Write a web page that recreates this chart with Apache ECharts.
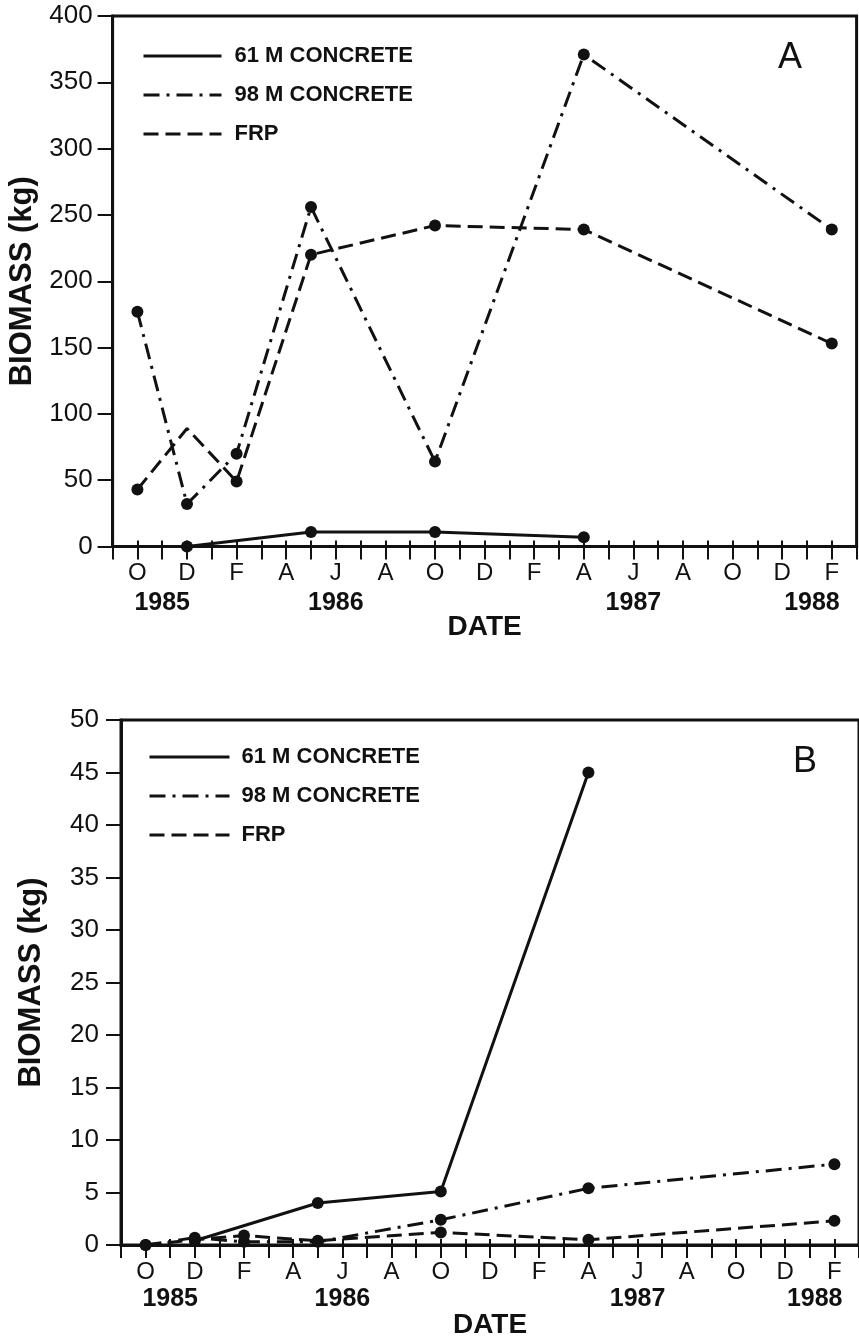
<!DOCTYPE html>
<html>
<head>
<meta charset="utf-8">
<title>Biomass</title>
<script src="https://cdn.jsdelivr.net/npm/echarts@6/dist/echarts.min.js"></script>
<style>
html, body { margin: 0; padding: 0; background: #fff; }
#chart { width: 859px; height: 1343px; }
</style>
</head>
<body>
<div id="chart"></div>
<script>
// months are counted from October 1985 (0) up to February 1988 (28)
var monthLabels = ['O', 'D', 'F', 'A', 'J', 'A', 'O', 'D', 'F', 'A', 'J', 'A', 'O', 'D', 'F'];
var yearLabels = ['1985', '1986', '1987', '1988'];
var yearPos = [1, 8, 20, 27.2];
var seriesNames = ['61 M CONCRETE', '98 M CONCRETE', 'FRP'];

// panel A, biomass in kg
var aMonths61 = [2, 7, 12, 18];
var a61 = [0, 11, 11, 7];
var aMonths98 = [0, 2, 4, 7, 12, 18, 28];
var a98 = [177, 32, 70, 256, 64, 371, 239];
var aMonthsFrp = [0, 2, 4, 7, 12, 18, 28];
var aFrp = [43, 89, 49, 220, 242, 239, 153];

// panel B, biomass in kg
var bMonths61 = [2, 7, 12, 18];
var b61 = [0.4, 4.0, 5.1, 45];
var bMonths98 = [0, 2, 4, 7, 12, 18, 28];
var b98 = [0, 0.7, 0.3, 0.3, 2.4, 5.4, 7.7];
var bMonthsFrp = [0, 2, 4, 7, 12, 18, 28];
var bFrp = [0, 0.5, 0.9, 0.4, 1.2, 0.5, 2.3];

var INK = '#111';
var FONT = '"Liberation Sans", Arial, sans-serif';
var dashes = { '61 M CONCRETE': 'solid', '98 M CONCRETE': [16, 7, 3, 7], 'FRP': [15, 7] };

var tickVals = [];
for (var t = -1; t <= 29; t++) tickVals.push(t);

function pairs (xs, ys, noMark) {
    return xs.map(function (m, i) {
        if (noMark && noMark.indexOf(i) >= 0) return { value: [m, ys[i]], symbol: 'none' };
        return [m, ys[i]];
    });
}

function line (name, grid, data) {
    return {
        name: name,
        type: 'line',
        xAxisIndex: grid * 2,
        yAxisIndex: grid,
        data: data,
        symbol: 'circle',
        symbolSize: 12,
        itemStyle: { color: INK },
        lineStyle: { color: INK, width: 3, type: dashes[name] },
        z: 3
    };
}

function monthAxis (grid, margin, nameGap) {
    return {
        type: 'value', gridIndex: grid, position: 'bottom',
        min: -1, max: 29, interval: 1,
        axisLine: { onZero: false, lineStyle: { color: INK, width: 3 } },
        axisTick: { length: 13, lineStyle: { color: INK, width: 2 } },
        axisLabel: {
            margin: margin, fontSize: 24, color: INK, fontFamily: FONT,
            formatter: function (v) { return (v >= 0 && v % 2 === 0) ? monthLabels[v / 2] : '' }
        },
        splitLine: { show: false },
        name: 'DATE', nameLocation: 'middle', nameGap: nameGap,
        nameTextStyle: { fontSize: 28, fontWeight: 'bold', color: INK, fontFamily: FONT }
    };
}

function yearAxis (grid, margin) {
    return {
        type: 'value', gridIndex: grid, position: 'bottom',
        min: -1, max: 29,
        axisLine: { show: false, onZero: false },
        axisTick: { show: true, inside: true, length: 6, customValues: tickVals, lineStyle: { color: INK, width: 2 } },
        axisLabel: {
            customValues: yearPos, margin: margin, fontSize: 25, fontWeight: 'bold', color: INK, fontFamily: FONT,
            formatter: function (v) { return yearLabels[yearPos.indexOf(v)] }
        },
        splitLine: { show: false }
    };
}

function biomassAxis (grid, max, step, margin, nameGap) {
    return {
        type: 'value', gridIndex: grid, min: 0, max: max, interval: step,
        axisLine: { show: true, onZero: false, lineStyle: { color: INK, width: 3 } },
        axisTick: { show: true, length: 15, lineStyle: { color: INK, width: 2 } },
        axisLabel: { margin: margin, fontSize: 26, color: INK, fontFamily: FONT },
        splitLine: { show: false },
        name: 'BIOMASS (kg)', nameLocation: 'middle', nameGap: nameGap, nameRotate: 90,
        nameTextStyle: { fontSize: 31, fontWeight: 'bold', color: INK, fontFamily: FONT }
    };
}

function legend (left, top, width, pad) {
    return {
        data: seriesNames, orient: 'vertical', left: left, top: top, padding: 0,
        itemWidth: width, itemHeight: 14, itemGap: 17,
        itemStyle: { opacity: 0 },
        lineStyle: { width: 3 },
        selectedMode: false,
        textStyle: { fontSize: 22, fontWeight: 'bold', color: INK, fontFamily: FONT, padding: [0, 0, 0, pad] }
    };
}

var chart = echarts.init(document.getElementById('chart'));
chart.setOption({
    animation: false,
    backgroundColor: '#fff',
    title: [
        { text: 'A', left: 778, top: 40, padding: 0, textStyle: { fontSize: 36, fontWeight: 'normal', color: INK, fontFamily: FONT } },
        { text: 'B', left: 793, top: 744, padding: 0, textStyle: { fontSize: 36, fontWeight: 'normal', color: INK, fontFamily: FONT } }
    ],
    legend: [legend(142, 45, 78, 8), legend(148, 746, 80, 7)],
    grid: [
        { left: 112.6, top: 16, width: 744, height: 530.5, show: true, borderColor: INK, borderWidth: 3, outerBoundsMode: 'none' },
        { left: 121, top: 720, width: 738, height: 525, show: true, borderColor: INK, borderWidth: 3, outerBoundsMode: 'none' }
    ],
    xAxis: [monthAxis(0, 15, 67), yearAxis(0, 44), monthAxis(1, 15, 66), yearAxis(1, 42)],
    yAxis: [biomassAxis(0, 400, 50, 20, 70), biomassAxis(1, 50, 5, 22, 74)],
    series: [
        line('61 M CONCRETE', 0, pairs(aMonths61, a61)),
        line('98 M CONCRETE', 0, pairs(aMonths98, a98)),
        line('FRP', 0, pairs(aMonthsFrp, aFrp, [1])),
        line('61 M CONCRETE', 1, pairs(bMonths61, b61)),
        line('98 M CONCRETE', 1, pairs(bMonths98, b98)),
        line('FRP', 1, pairs(bMonthsFrp, bFrp))
    ]
});
</script>
</body>
</html>
